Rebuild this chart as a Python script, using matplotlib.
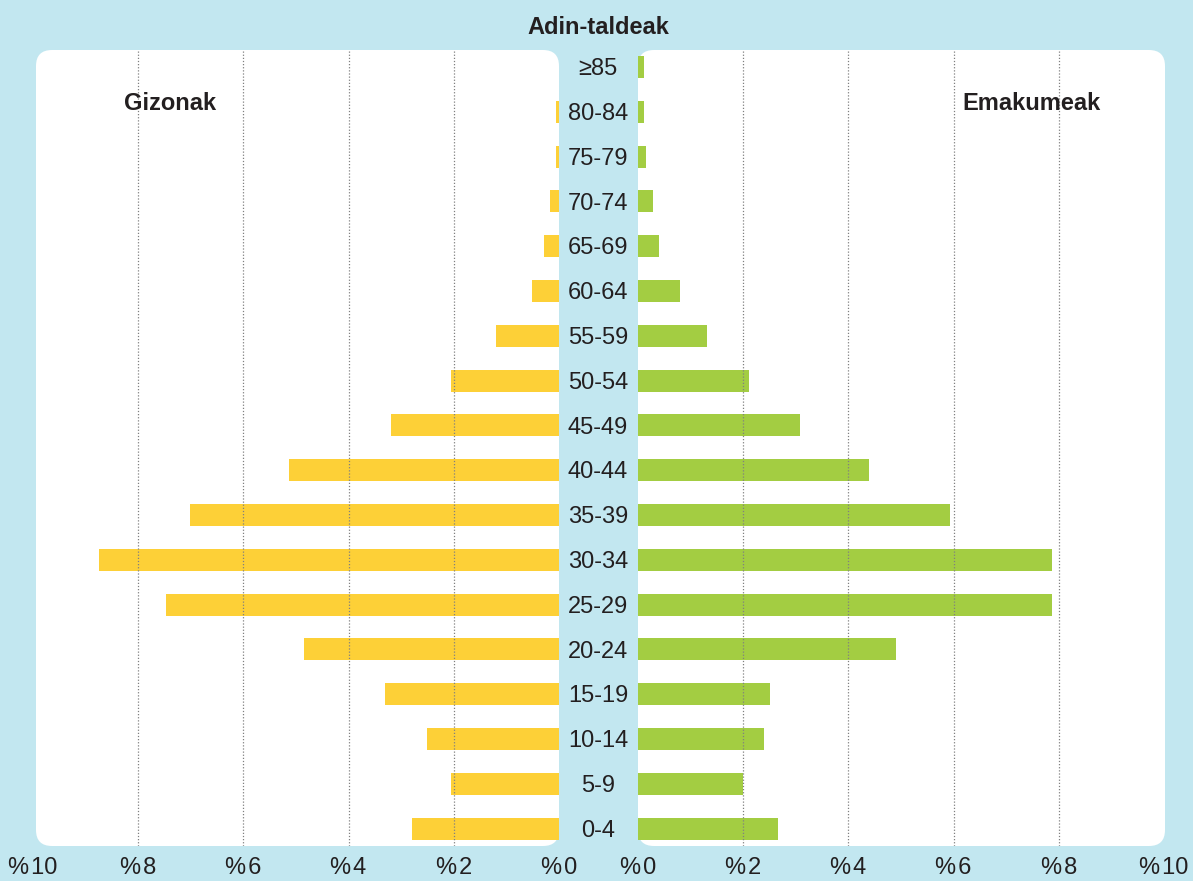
import matplotlib.pyplot as plt
from matplotlib.patches import FancyBboxPatch
from matplotlib.transforms import blended_transform_factory

plt.rcParams['font.family'] = ['Liberation Sans', 'DejaVu Sans']

age_groups = ['0-4', '5-9', '10-14', '15-19', '20-24', '25-29', '30-34', '35-39',
              '40-44', '45-49', '50-54', '55-59', '60-64', '65-69', '70-74',
              '75-79', '80-84', '\u226585']
men = [2.79, 2.05, 2.51, 3.31, 4.85, 7.47, 8.75, 7.02,
       5.13, 3.19, 2.05, 1.20, 0.51, 0.29, 0.17, 0.06, 0.06, 0.0]
women = [2.66, 2.00, 2.40, 2.51, 4.90, 7.87, 7.87, 5.93,
         4.39, 3.08, 2.11, 1.31, 0.80, 0.40, 0.29, 0.15, 0.11, 0.11]
ticks = [0, 2, 4, 6, 8, 10]
tick_labels = ['%\u200a' + str(t) for t in ticks]

BG = '#c2e7f0'
YELLOW = '#fdd037'
GREEN = '#a3cd42'
TXT = '#231f20'

W, H = 1193, 881
fig = plt.figure(figsize=(W / 100, H / 100), dpi=100, facecolor=BG)


def px(x0, y0, x1, y1):
    # pixel box (top-left origin) -> figure fraction rect
    return [x0 / W, 1 - y1 / H, (x1 - x0) / W, (y1 - y0) / H]


# white rounded panels behind the axes
for x0, x1 in [(36, 559), (638, 1165)]:
    panel = FancyBboxPatch((x0 / 100, (H - 846) / 100), (x1 - x0) / 100, (846 - 50) / 100,
                           boxstyle='round,pad=0,rounding_size=0.16',
                           transform=fig.dpi_scale_trans, facecolor='white',
                           edgecolor='none', zorder=-10)
    fig.patches.append(panel)

axL = fig.add_axes(px(33, 50, 559, 846))
axR = fig.add_axes(px(638, 50, 1164, 846))

y = list(range(len(age_groups)))
ylim = (-0.39, 17.38)

for ax, vals, col in [(axL, men, YELLOW), (axR, women, GREEN)]:
    ax.set_facecolor('none')
    ax.barh(y, vals, height=0.49, color=col, zorder=2)
    for g in [2, 4, 6, 8]:
        ax.axvline(g, color='#808080', linestyle=(0, (1, 1.5)), linewidth=0.9, zorder=3)
    ax.set_xlim(0, 10)
    ax.set_ylim(*ylim)
    ax.set_xticks(ticks)
    ax.set_xticklabels(tick_labels, fontsize=17, color=TXT)
    ax.tick_params(axis='x', length=0, pad=8)
    ax.set_yticks([])
    for s in ax.spines.values():
        s.set_visible(False)

axL.invert_xaxis()

# age labels in the middle strip
tr = blended_transform_factory(fig.transFigure, axL.transData)
for i, lab in enumerate(age_groups):
    fig.text(598 / W, i - 0.05, lab, transform=tr, ha='center', va='center',
             fontsize=17, color=TXT)

fig.text(598 / W, 1 - 28 / H, 'Adin-taldeak', ha='center', va='center',
         fontsize=17, fontweight='bold', color=TXT)
fig.text(170 / W, 1 - 103 / H, 'Gizonak', ha='center', va='center',
         fontsize=17, fontweight='bold', color=TXT)
fig.text(1032 / W, 1 - 103 / H, 'Emakumeak', ha='center', va='center',
         fontsize=17, fontweight='bold', color=TXT)

fig.savefig('out.png', dpi=100, facecolor=BG)
